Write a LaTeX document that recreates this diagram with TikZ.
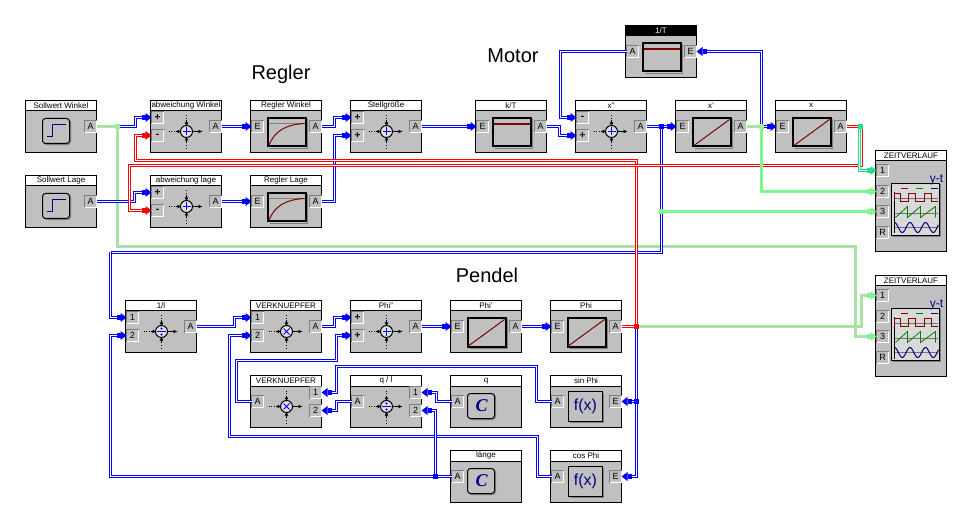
\documentclass[tikz,border=0pt]{standalone}
\usepackage{fontspec}
\setmainfont{Liberation Sans}
\newfontfamily\calfont{Liberation Serif}
\usetikzlibrary{arrows.meta,calc}
\definecolor{bodyg}{HTML}{C0C0C0}
\definecolor{wblue}{HTML}{0000FF}
\definecolor{wred}{HTML}{FF0000}
\definecolor{wgreen}{HTML}{9CEE9C}
\definecolor{wcore}{HTML}{C0CCC0}
\definecolor{wbright}{HTML}{80F490}
\definecolor{wteal}{HTML}{20E088}
\definecolor{darkr}{HTML}{800000}
\definecolor{darkb}{HTML}{000080}
\definecolor{darkg}{HTML}{008000}
\tikzset{
  x=1pt,y=-1pt,
  blockbody/.style={draw=black,fill=bodyg,line width=1pt,anchor=north west,minimum width=71pt,inner sep=0pt,outer sep=0pt},
  titlebar/.style={draw=black,fill=white,line width=1pt,anchor=north west,minimum width=71pt,minimum height=10.5pt,inner sep=0pt,outer sep=0pt,font=\fontsize{8}{8}\selectfont},
  titledark/.style={titlebar,fill=black,text=white},
  portbox/.style={fill=bodyg,minimum size=10pt,inner sep=0pt,outer sep=1pt,font=\fontsize{9}{9}\selectfont},
  wbase/.style={line width=1pt,double distance=1pt,line join=miter},
  wb/.style={wbase,draw=wblue,double=white},
  wr/.style={wbase,draw=wred,double=white},
  wg/.style={wbase,draw=wgreen,double=wcore},
  wgb/.style={wbase,draw=wbright,double=wbright},
  wt/.style={wbase,draw=wteal,double=white},
  tipb/.style={-{Square[length=4pt,width=5pt,line width=0pt,fill=wblue]Triangle[length=6pt,width=9pt,line width=0pt,fill=wblue]}},
  tipg/.style={-{Square[length=4pt,width=5pt,line width=0pt,fill=wbright]Triangle[length=6pt,width=9pt,line width=0pt,fill=wbright]}},
  tipr/.style={-{Square[length=4pt,width=5pt,line width=0pt,fill=wred]Triangle[length=6pt,width=9pt,line width=0pt,fill=wred]}},
  tipt/.style={-{Square[length=4pt,width=5pt,line width=0pt,fill=wteal]Triangle[length=6pt,width=9pt,line width=0pt,fill=wteal]}},
  junction/.style={minimum size=5pt,inner sep=0pt,outer sep=0pt},
  heading/.style={font=\fontsize{20}{20}\selectfont,inner sep=0pt},
  sigarrow/.style={-{Latex[length=4pt,width=4pt]},line width=.8pt},
  sigdots/.style={dotted,line width=.8pt},
  frameicon/.style={draw=black,line width=2pt},
  shadowline/.style={draw=black!50,line width=1.2pt},
}
\newcommand{\block}[6][titlebar]{%
  \node[blockbody,minimum height=#6] (#2) at ({#4+0.5},{#5+0.5}) {};
  \node[#1] (#2-title) at ({#4+0.5},{#5+0.5}) {#3};}
\newcommand{\prt}[5]{% block, port, relx, rely, label
  \node[portbox] (#1-#2) at ($(#1.north west)+(#3,#4)$) {#5};
  \begin{scope}[shift={(#1-#2.center)}]
    \draw[white,line width=1pt] (-6,6) -- (6,6) -- (6,-6);
    \draw[black!50,line width=1pt] (-6,6) -- (-6,-6) -- (6,-6);
  \end{scope}}
\newcommand{\stepicon}[1]{\begin{scope}[shift={(#1.north west)}]
  \draw[black!50,line width=1.2pt,rounded corners=3pt] (18.5,19) rectangle (45,44);
  \draw[black,line width=1pt,fill=bodyg,rounded corners=3pt] (17,18) rectangle (44,43);
  \draw[darkb,line width=1pt] (21,36) -- (27,36) -- (27,24) -- (40,24);
\end{scope}}
\newcommand{\consticon}[1]{\begin{scope}[shift={(#1.north west)}]
  \draw[black!50,line width=1.2pt,rounded corners=3pt] (18.5,19) rectangle (45,44);
  \draw[black,line width=1pt,fill=bodyg,rounded corners=3pt] (17,18) rectangle (44,43);
  \node[text=darkb,inner sep=0pt,font=\calfont\bfseries\itshape\fontsize{18}{18}\selectfont] (#1-c) at (31,30) {C};
\end{scope}}
\newcommand{\fxicon}[1]{\begin{scope}[shift={(#1.north west)}]
  \draw[black!50,line width=1.2pt] (19,47) -- (53,47) -- (53,17);
  \draw[black,line width=1pt] (18,16) rectangle (52,46);
  \node[text=darkb,inner sep=0pt,font=\fontsize{16}{16}\selectfont] (#1-f) at (35,31) {f(x)};
\end{scope}}
\newcommand{\frameic}[2]{\begin{scope}[shift={(#1.north west)}]
  \draw[shadowline] (19,48) -- (57,48) -- (57,19);
  \draw[frameicon] (17.5,18) rectangle (55,46);
  #2
\end{scope}}
\newcommand{\lagicon}[1]{\frameic{#1}{\draw[black!50,line width=.8pt] (18.5,23) -- (54,23);
  \draw[darkr,line width=1pt] (18.5,45) .. controls (24,30) and (36,24) .. (54,23);}}
\newcommand{\gainicon}[1]{\frameic{#1}{\draw[darkr,line width=2pt] (18.5,24) -- (54,24);}}
\newcommand{\inticon}[1]{\frameic{#1}{\draw[darkr,line width=1pt] (18.5,45) -- (54,19);}}
\newcommand{\opplus}{\draw[wblue,line width=1pt] (32,31) -- (40,31) (36,27) -- (36,35);}
\newcommand{\opmul}{\draw[wblue,line width=1pt] (33,28) -- (39,34) (33,34) -- (39,28);}
\newcommand{\opdiv}{\draw[wblue,line width=1pt] (31.5,31) -- (40.5,31);\fill[wblue] (36,28) circle (1.2) (36,34) circle (1.2);}
\newcommand{\sumicon}[2]{\begin{scope}[shift={(#1.north west)}]
  \draw[sigdots] (18,31) -- (26,31);
  \draw[sigarrow] (25,31) -- (31,31);
  \draw[sigarrow] (41,31) -- (52,31);
  \draw[sigdots] (36,15) -- (36,21);
  \draw[sigarrow] (36,20) -- (36,26);
  \draw[sigdots] (36,48) -- (36,41);
  \draw[sigarrow] (36,42) -- (36,36);
  \draw[black,line width=1pt,fill=black!12] (36,31) circle (6);
  #2
\end{scope}}
\newcommand{\scopeicon}[1]{\begin{scope}[shift={(#1.north west)}]
  \draw[shadowline] (17,86) -- (65,86) -- (65,34);
  \draw[black,line width=1pt,fill=black!15] (16,33) rectangle (64,85);
  \draw[darkr,line width=1.6pt] (25,38) -- (32,38);
  \draw[darkg,line width=1.6pt] (40,38) -- (47,38);
  \draw[darkb,line width=1.6pt] (55,38) -- (62,38);
  \draw[black!55,line width=.8pt] (18,48) -- (62,48) (18,63) -- (62,63) (18,77) -- (62,77);
  \draw[black,line width=1pt] (18.5,42) -- (18.5,83);
  \draw[darkr,line width=1pt] (19,51) -- (19,43) -- (25,43) -- (25,51) -- (33,51) -- (33,43) -- (40,43) -- (40,51) -- (49,51) -- (49,43) -- (56,43) -- (56,51) -- (62,51);
  \draw[darkg,line width=.8pt] (20,67) -- (32,56) -- (32,67) -- (45,56) -- (45,67) -- (60,56) -- (60,67);
  \draw[darkb,line width=1pt] plot[domain=0:44,samples=70] ({19+\x},{77-5*cos(\x*360/15.5)});
  \node[text=darkb,inner sep=0pt,font=\fontsize{12}{12}\selectfont] (#1-yt) at (61,29) {y-t};
\end{scope}}
\newcommand{\plb}{\textbf{\fontsize{10}{10}\selectfont +}}
\newcommand{\mnb}{\textbf{\fontsize{10}{10}\selectfont -}}
\begin{document}
\begin{tikzpicture}
\useasboundingbox[fill=white] (0,0) rectangle (971,526);

\node[heading] (hregler) at (281,74) {Regler};
\node[heading] (hmotor) at (513,56) {Motor};
\node[heading] (hpendel) at (487,275) {Pendel};

% blocks
\block{SW}{Sollwert Winkel}{25}{100}{52}  \prt{SW}{A}{65}{26}{A} \stepicon{SW}
\block{SL}{Sollwert Lage}{25}{175}{52}    \prt{SL}{A}{65}{26}{A} \stepicon{SL}
\block{AW}{abweichung Winkel}{150}{100}{52} \prt{AW}{p}{7}{17}{\plb} \prt{AW}{m}{7}{35}{\mnb} \prt{AW}{A}{65}{26}{A} \sumicon{AW}{\opplus}
\block{AL}{abweichung lage}{150}{175}{52} \prt{AL}{p}{7}{17}{\plb} \prt{AL}{m}{7}{35}{\mnb} \prt{AL}{A}{65}{26}{A} \sumicon{AL}{\opplus}
\block{RW}{Regler Winkel}{250}{100}{52}   \prt{RW}{E}{7}{26}{E} \prt{RW}{A}{65}{26}{A} \lagicon{RW}
\block{RL}{Regler Lage}{250}{175}{52}     \prt{RL}{E}{7}{26}{E} \prt{RL}{A}{65}{26}{A} \lagicon{RL}
\block{ST}{Stellgröße}{350}{100}{52}      \prt{ST}{a}{7}{17}{\plb} \prt{ST}{b}{7}{35}{\plb} \prt{ST}{A}{65}{26}{A} \sumicon{ST}{\opplus}
\block{KT}{k/T}{475}{100}{52}             \prt{KT}{E}{7}{26}{E} \prt{KT}{A}{65}{26}{A} \gainicon{KT}
\block{XDD}{x''}{575}{100}{52}            \prt{XDD}{m}{7}{17}{\mnb} \prt{XDD}{p}{7}{35}{\plb} \prt{XDD}{A}{65}{26}{A} \sumicon{XDD}{\opplus}
\block[titledark]{TT}{1/T}{625}{25}{52}   \prt{TT}{A}{7}{26}{A} \prt{TT}{E}{65}{26}{E} \gainicon{TT}
\block{XD}{x'}{675}{100}{52}              \prt{XD}{E}{7}{26}{E} \prt{XD}{A}{65}{26}{A} \inticon{XD}
\block{XX}{x}{775}{100}{52}               \prt{XX}{E}{7}{26}{E} \prt{XX}{A}{65}{26}{A} \inticon{XX}
\block{ZA}{ZEITVERLAUF}{875}{150}{101}    \prt{ZA}{1}{7}{20}{1} \prt{ZA}{2}{7}{41}{2} \prt{ZA}{3}{7}{61}{3} \prt{ZA}{R}{7}{82}{R} \scopeicon{ZA}
\block{ZB}{ZEITVERLAUF}{875}{275}{101}    \prt{ZB}{1}{7}{20}{1} \prt{ZB}{2}{7}{41}{2} \prt{ZB}{3}{7}{61}{3} \prt{ZB}{R}{7}{82}{R} \scopeicon{ZB}
\block{IL}{1/l}{125}{300}{52}             \prt{IL}{1}{7}{17}{1} \prt{IL}{2}{7}{35}{2} \prt{IL}{A}{65}{26}{A} \sumicon{IL}{\opdiv}
\block{VA}{VERKNUEPFER}{250}{300}{52}     \prt{VA}{1}{7}{17}{1} \prt{VA}{2}{7}{35}{2} \prt{VA}{A}{65}{26}{A} \sumicon{VA}{\opmul}
\block{PD}{Phi''}{350}{300}{52}           \prt{PD}{a}{7}{17}{\plb} \prt{PD}{b}{7}{35}{\plb} \prt{PD}{A}{65}{26}{A} \sumicon{PD}{\opplus}
\block{PP}{Phi'}{450}{300}{52}            \prt{PP}{E}{7}{26}{E} \prt{PP}{A}{65}{26}{A} \inticon{PP}
\block{PH}{Phi}{550}{300}{52}             \prt{PH}{E}{7}{26}{E} \prt{PH}{A}{65}{26}{A} \inticon{PH}
\block{VB}{VERKNUEPFER}{250}{375}{52}     \prt{VB}{A}{7}{26}{A} \prt{VB}{1}{65}{17}{1} \prt{VB}{2}{65}{35}{2} \sumicon{VB}{\opmul}
\block{QL}{q / l}{350}{375}{52}           \prt{QL}{A}{7}{26}{A} \prt{QL}{1}{65}{17}{1} \prt{QL}{2}{65}{35}{2} \sumicon{QL}{\opdiv}
\block{QQ}{q}{450}{375}{52}               \prt{QQ}{A}{7}{26}{A} \consticon{QQ}
\block{SP}{sin Phi}{550}{375}{52}         \prt{SP}{A}{7}{26}{A} \prt{SP}{E}{65}{26}{E} \fxicon{SP}
\block{LA}{länge}{450}{450}{52}           \prt{LA}{A}{7}{26}{A} \consticon{LA}
\block{CP}{cos Phi}{550}{450}{52}         \prt{CP}{A}{7}{26}{A} \prt{CP}{E}{65}{26}{E} \fxicon{CP}

% junction positions
\coordinate (jsw) at (117.5,126.5);
\coordinate (jdd) at (661.5,126.5);
\coordinate (jdg) at (661.5,211.5);
\coordinate (jxd) at (761.5,126.5);
\coordinate (jxx) at (860.5,126.5);
\coordinate (jxr) at (861.5,126.5);
\coordinate (jxg) at (859.5,126.5);
\coordinate (jph) at (636.5,326.5);
\coordinate (jsn) at (636.5,401.5);
\coordinate (jla) at (435.5,476.5);

% green / gray long wires first
\draw[wg,tipg] (jsw) |- (855.5,246.5) |- (ZB-3.west);
\draw[wg,tipg] (jph) -- (861.5,326.5) |- (ZB-1.west);

% blue wires
\draw[wb] (jdd) |- (110.5,252.5);
\draw[wb,tipb] (110.5,252.5) |- (IL-1.west);
\draw[wb,tipb] (jsw) -- ++(18,0) |- (AW-p.west);
\draw[wb,tipb] (SL-A.east) -- ++(38,0) |- (AL-p.west);
\draw[wb,tipb] (AW-A.east) -- (RW-E.west);
\draw[wb,tipb] (AL-A.east) -- (RL-E.west);
\draw[wb,tipb] (RW-A.east) -- ++(13,0) |- (ST-a.west);
\draw[wb,tipb] (RL-A.east) -- ++(13,0) |- (ST-b.west);
\draw[wb,tipb] (ST-A.east) -- (KT-E.west);
\draw[wb,tipb] (KT-A.east) -- ++(13,0) |- (XDD-p.west);
\draw[wb,tipb] (TT-A.west) -- ++(-66,0) |- (XDD-m.west);
\draw[wb] (XDD-A.east) -- (jdd);
\draw[wb,tipb] (jdd) -- (XD-E.west);
\draw[wb,tipb] (jxd) -- (XX-E.west);
\draw[wb,tipb] (jxd) |- (TT-E.east);

\draw[wb] (jph) -- (jsn);
\draw[wb,tipb] (jsn) |- (CP-E.east);
\draw[wb,tipb] (jsn) -- (SP-E.east);
\draw[wb,tipb] (IL-A.east) -- ++(38,0) |- (VA-1.west);
\draw[wb,tipb] (VA-A.east) -- ++(13,0) |- (PD-a.west);
\draw[wb,tipb] (PD-A.east) -- (PP-E.west);
\draw[wb,tipb] (PP-A.east) -- (PH-E.west);
\draw[wb,tipb] (VB-A.west) -- ++(-15,0) |- (336.5,360.5) |- (PD-b.west);
\draw[wb,tipb] (SP-A.west) -- ++(-15,0) |- (336.5,366.5) |- (VB-1.east);
\draw[wb,tipb] (QL-A.west) -- ++(-15,0) |- (VB-2.east);
\draw[wb,tipb] (CP-A.west) -- ++(-14,0) |- (229.5,436.5) |- (VA-2.west);
\draw[wb,tipb] (QQ-A.west) -- ++(-15,0) |- (QL-1.east);
\draw[wb] (LA-A.west) -- (jla);
\draw[wb,tipb] (jla) |- (QL-2.east);
\draw[wb,tipb] (jla) -- (110.5,476.5) |- (IL-2.west);

% red wires
\draw[wr,tipr] (jph) |- (135.5,160.5) |- (AW-m.west);
\draw[wr,tipr] (jxr) |- (129.5,165.5) |- (AL-m.west);
\draw[wr] (XX-A.east) -- (jxx);
\draw[wr] (PH-A.east) -- (jph);

% green wires
\draw[wg] (SW-A.east) -- (jsw);
\draw[wg] (XD-A.east) -- (jxd);
\draw[wgb,tipg] (jxd) |- (ZA-2.west);
\draw[wgb,tipg] (jdg) -- (ZA-3.west);
\draw[wt,tipt] (jxg) |- (ZA-1.west);

% junction squares
\node[junction,fill=wgreen] (jswn) at (jsw) {};
\node[junction,fill=wblue] (jddn) at (jdd) {};
\node[junction,fill=wbright] (jdgn) at (jdg) {};
\node[junction,fill=wgreen] (jxdn) at (jxd) {};
\node[junction,fill=wteal] (jxxn) at (jxx) {};
\node[junction,fill=wred] (jphn) at (jph) {};
\node[junction,fill=wblue] (jsnn) at (jsn) {};
\node[junction,fill=wblue] (jlan) at (jla) {};
\end{tikzpicture}
\end{document}
